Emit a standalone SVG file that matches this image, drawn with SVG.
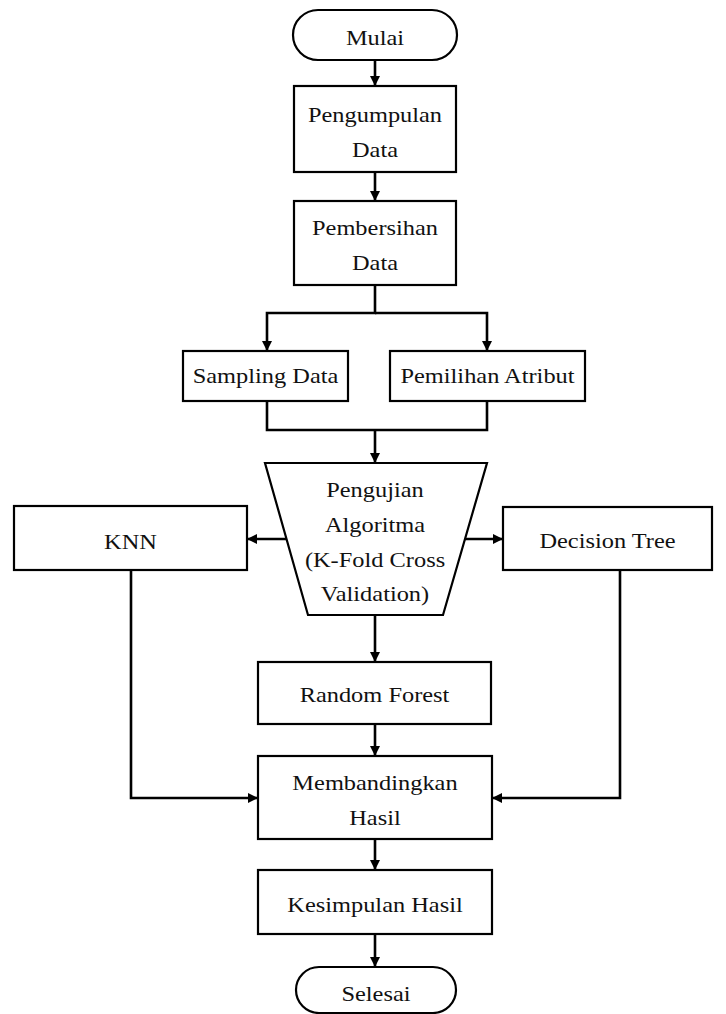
<svg xmlns="http://www.w3.org/2000/svg" width="726" height="1014" viewBox="0 0 726 1014">
<style>
.n{fill:#fff;stroke:#000;stroke-width:2.2}
.t{font-family:"Liberation Serif","Times New Roman",serif;font-size:20px;fill:#111;text-anchor:middle}
.c{fill:none;stroke:#000;stroke-width:2.6}
</style>
<defs>
<marker id="ah" viewBox="0 0 10 10" refX="10" refY="5" markerWidth="10" markerHeight="10" markerUnits="userSpaceOnUse" orient="auto">
<path d="M0,0 L10,5 L0,10 z" fill="#000"/>
</marker>
</defs>
<rect width="726" height="1014" fill="#fff"/>
<g id="connectors">
<path class="c" d="M375,60 V86" marker-end="url(#ah)"/>
<path class="c" d="M375,172 V201" marker-end="url(#ah)"/>
<path class="c" d="M375,285 V313 H267 V351" marker-end="url(#ah)"/>
<path class="c" d="M375,313 H487 V351" marker-end="url(#ah)"/>
<path class="c" d="M267,401 V430 H487 V401"/>
<path class="c" d="M375,430 V463" marker-end="url(#ah)"/>
<path class="c" d="M286,539 H247" marker-end="url(#ah)"/>
<path class="c" d="M465,539 H503" marker-end="url(#ah)"/>
<path class="c" d="M375,615 V662" marker-end="url(#ah)"/>
<path class="c" d="M375,724 V756" marker-end="url(#ah)"/>
<path class="c" d="M131,570 V798 H258" marker-end="url(#ah)"/>
<path class="c" d="M620,570 V798 H492" marker-end="url(#ah)"/>
<path class="c" d="M375,839 V870" marker-end="url(#ah)"/>
<path class="c" d="M375,934 V967" marker-end="url(#ah)"/>
</g>
<g id="mulai">
<rect class="n" x="293" y="10" width="164" height="50" rx="25"/>
<text class="t" transform="translate(375,45) scale(1.22,1)">Mulai</text>
</g>
<g id="pengumpulan">
<rect class="n" x="294" y="86" width="162" height="86"/>
<text class="t" transform="translate(375,122) scale(1.22,1)">Pengumpulan</text>
<text class="t" transform="translate(375,157) scale(1.22,1)">Data</text>
</g>
<g id="pembersihan">
<rect class="n" x="294" y="201" width="162" height="84"/>
<text class="t" transform="translate(375,235) scale(1.22,1)">Pembersihan</text>
<text class="t" transform="translate(375,270) scale(1.22,1)">Data</text>
</g>
<g id="sampling">
<rect class="n" x="183" y="351" width="165" height="50"/>
<text class="t" transform="translate(265.5,383) scale(1.22,1)">Sampling Data</text>
</g>
<g id="pemilihan">
<rect class="n" x="390" y="351" width="195" height="50"/>
<text class="t" transform="translate(487.5,383) scale(1.22,1)">Pemilihan Atribut</text>
</g>
<g id="pengujian">
<polygon class="n" points="265,463 487,463 443,615 308,615"/>
<text class="t" transform="translate(375,497) scale(1.22,1)">Pengujian</text>
<text class="t" transform="translate(375,532) scale(1.22,1)">Algoritma</text>
<text class="t" transform="translate(375,567) scale(1.22,1)">(K-Fold Cross</text>
<text class="t" transform="translate(375,601) scale(1.22,1)">Validation)</text>
</g>
<g id="knn">
<rect class="n" x="14" y="506" width="233" height="64"/>
<text class="t" transform="translate(130.5,549) scale(1.22,1)">KNN</text>
</g>
<g id="decision-tree">
<rect class="n" x="503" y="507" width="209" height="63"/>
<text class="t" transform="translate(607.5,548) scale(1.22,1)">Decision Tree</text>
</g>
<g id="random-forest">
<rect class="n" x="258" y="662" width="233" height="62"/>
<text class="t" transform="translate(374.5,702) scale(1.22,1)">Random Forest</text>
</g>
<g id="membandingkan">
<rect class="n" x="258" y="756" width="234" height="83"/>
<text class="t" transform="translate(375,790) scale(1.22,1)">Membandingkan</text>
<text class="t" transform="translate(375,825) scale(1.22,1)">Hasil</text>
</g>
<g id="kesimpulan">
<rect class="n" x="258" y="870" width="234" height="64"/>
<text class="t" transform="translate(375,912) scale(1.22,1)">Kesimpulan Hasil</text>
</g>
<g id="selesai">
<rect class="n" x="296" y="967" width="160" height="46" rx="23"/>
<text class="t" transform="translate(376,1001) scale(1.22,1)">Selesai</text>
</g>
</svg>
